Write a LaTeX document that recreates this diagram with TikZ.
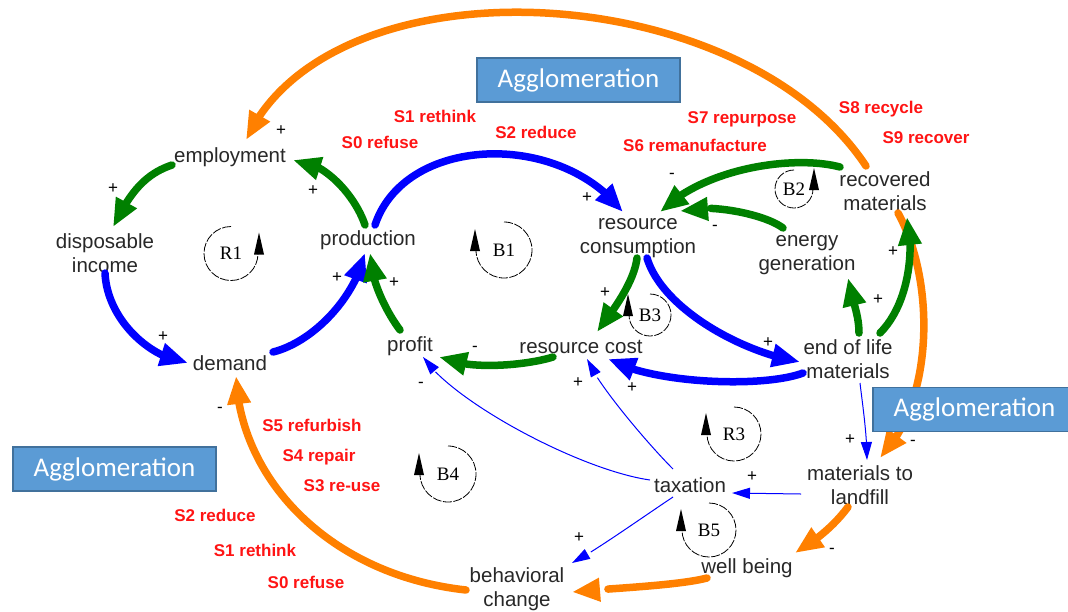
\documentclass[tikz,border=0pt]{standalone}
\usepackage{fontspec}
\setmainfont{Liberation Sans}
\newfontfamily\loopfont{Liberation Serif}
\newfontfamily\aggfont{Carlito}
\usetikzlibrary{arrows.meta,bending}

\definecolor{cldgreen}{RGB}{0,128,0}
\definecolor{cldblue}{RGB}{0,0,255}
\definecolor{cldorange}{RGB}{255,128,0}
\definecolor{cldred}{RGB}{255,20,20}
\definecolor{aggfill}{RGB}{91,155,213}
\definecolor{aggedge}{RGB}{65,113,156}
\definecolor{vartext}{RGB}{40,40,40}

% loop marker, clockwise: label, x, y, radius
\newcommand\cwloop[4]{%
  \node[looplabel] (#1) at (#2,#3) {#1};
  \draw[loopline] (#2,#3) ++(-90:#4) arc[start angle=-90, end angle=180, radius=#4];
  \fill (#2,#3) ++(-#4-6,1) -- ++(5,-22) -- ++(5,22) -- cycle;
}
% loop marker, counter-clockwise: label, x, y, radius
\newcommand\ccwloop[4]{%
  \node[looplabel] (#1) at (#2,#3) {#1};
  \draw[loopline] (#2,#3) ++(-90:#4) arc[start angle=-90, end angle=-360, radius=#4];
  \fill (#2,#3) ++(#4-4,1) -- ++(5,-22) -- ++(5,22) -- cycle;
}

\begin{document}
\begin{tikzpicture}[x=1pt,y=-1pt,
  var/.style={font=\fontsize{20.5}{24}\selectfont, text=vartext, align=center, inner sep=0pt},
  strat/.style={font=\bfseries\fontsize{17}{18}\selectfont, text=cldred, inner sep=0pt},
  pol/.style={font=\fontsize{17}{17}\selectfont, text=black, inner sep=0pt},
  looplabel/.style={font=\loopfont\fontsize{19}{19}\selectfont, inner sep=0pt},
  loopline/.style={draw=black, line width=0.8pt, dash pattern=on 9pt off 1.5pt},
  aggbox/.style={draw=aggedge, fill=aggfill, line width=1.2pt, text=white,
    font=\aggfont\fontsize{27}{30}\selectfont, minimum width=203pt, minimum height=44pt, inner sep=0pt},
  fat/.style={line width=7.5pt, line cap=round, -{Triangle[length=28pt,width=22pt]}},
  grn/.style={fat, draw=cldgreen},
  blu/.style={fat, draw=cldblue},
  org/.style={fat, draw=cldorange},
  thin/.style={draw=cldblue, line width=1pt, -{Triangle[length=18pt,width=11pt]}},
]
\useasboundingbox (0,0) rectangle (1068,611);
\fill[white] (0,0) rectangle (1068,611);

% variables
\node[var] (emp)    at (230,157) {employment};
\node[var] (inc)    at (105,253) {disposable\\income};
\node[var] (prod)   at (368,240) {production};
\node[var] (dem)    at (230,363) {demand};
\node[var] (prof)   at (410,346) {profit};
\node[var] (rcons)  at (638,238) {resource\\consumption};
\node[var] (energy) at (807,255) {energy\\generation};
\node[var] (recov)  at (885,191) {recovered\\materials};
\node[var] (rcost)  at (581,347) {resource cost};
\node[var] (eol)    at (848,359) {end of life\\materials};
\node[var] (landf)  at (860,485) {materials to\\landfill};
\node[var] (tax)    at (690,485) {taxation};
\node[var] (well)   at (747,568) {well being};
\node[var] (behav)  at (517,589) {behavioral\\change};

% agglomeration feedbacks (orange)
\draw[org] ([shift={(-19,-25)}]recov.center) .. controls +(-126,-190) and +(84,-184) .. ([shift={(16,-17)}]emp.center);
\draw[org] ([shift={(13,22)}]recov.center) .. controls +(37,67) and +(55,-58) .. ([shift={(20,-27)}]landf.center);
\draw[org] ([shift={(-12,22)}]landf.center) .. controls +(-15,20) and +(20,-12) .. ([shift={(48,-15)}]well.center);
\draw[org] ([shift={(-40,10)}]well.center) .. controls +(-30,8) and +(25,-3) .. ([shift={(55,3)}]behav.center);
\draw[org] ([shift={(-51,1)}]behav.center) .. controls +(-136,-15) and +(4,104) .. ([shift={(6,13)}]dem.center);

% agglomeration boxes
\node[aggbox] (agg1) at (578.5,80) {Agglomeration};
\node[aggbox] (agg2) at (114.5,469) {Agglomeration};
\node[aggbox] (agg3) at (974.5,409.5) {Agglomeration};

% loop R1
\draw[grn] ([shift={(-58,8)}]emp.center) .. controls +(-30,10) and +(15,-30) .. ([shift={(8,-26)}]inc.center);
\draw[grn] ([shift={(-3,-15)}]prod.center) .. controls +(-10,-30) and +(30,0) .. ([shift={(63,3)}]emp.center);
\draw[blu] ([shift={(0,20)}]inc.center) .. controls +(2,45) and +(-40,-5) .. ([shift={(-42,0)}]dem.center);
\draw[blu] ([shift={(43,-11)}]dem.center) .. controls +(40,-10) and +(-10,45) .. ([shift={(-3,13)}]prod.center);
\draw[grn] ([shift={(-10,-16)}]prof.center) .. controls +(-15,-20) and +(0,25) .. ([shift={(2,13)}]prod.center);

% resource loops
\draw[blu] ([shift={(7,-15)}]prod.center) .. controls +(30,-90) and +(-63,-82) .. ([shift={(-15,-26)}]rcons.center);
\draw[grn] ([shift={(-45,-24)}]recov.center) .. controls +(-45,-12) and +(45,-45) .. ([shift={(22,-26)}]rcons.center);
\draw[grn] ([shift={(-24,-27)}]energy.center) .. controls +(-20,-15) and +(25,-8) .. ([shift={(42,-27)}]rcons.center);
\draw[grn] ([shift={(-1,20)}]rcons.center) .. controls +(-3,25) and +(15,-20) .. ([shift={(16,-15)}]rcost.center);
\draw[blu] ([shift={(9,20)}]rcons.center) .. controls +(15,50) and +(-60,-10) .. ([shift={(-48,3)}]eol.center);
\draw[blu] ([shift={(-45,14)}]eol.center) .. controls +(-40,15) and +(45,25) .. ([shift={(27,12)}]rcost.center);
\draw[grn] ([shift={(-28,10)}]rcost.center) .. controls +(-25,8) and +(30,14) .. ([shift={(29,11)}]prof.center);
\draw[grn] ([shift={(11,-26)}]eol.center) .. controls +(0,-20) and +(3,20) .. ([shift={(41,23)}]energy.center);
\draw[grn] ([shift={(32,-26)}]eol.center) .. controls +(28,-28) and +(8,35) .. ([shift={(22,26)}]recov.center);

% taxation links
\draw[thin] ([shift={(12,24)}]eol.center) .. controls +(3,25) and +(0,-25) .. ([shift={(7,-25)}]landf.center);
\draw[thin] ([shift={(-59,9)}]landf.center) -- ([shift={(42,8)}]tax.center);
\draw[thin] ([shift={(-40,-5)}]tax.center) .. controls +(-70,-10) and +(30,45) .. ([shift={(13,11)}]prof.center);
\draw[thin] ([shift={(-17,-16)}]tax.center) .. controls +(-25,-25) and +(10,25) .. ([shift={(6,12)}]rcost.center);
\draw[thin] ([shift={(-17,12)}]tax.center) .. controls +(-30,20) and +(20,-10) .. ([shift={(55,-26)}]behav.center);

% polarities
\node[pol] (q1)  at (281,131) {+};
\node[pol] (q2)  at (113,189) {+};
\node[pol] (q3)  at (313,191) {+};
\node[pol] (q4)  at (163,337) {+};
\node[pol] (q5)  at (337,278) {+};
\node[pol] (q6)  at (394,283) {+};
\node[pol] (q7)  at (421,385) {-};
\node[pol] (q8)  at (220,410) {-};
\node[pol] (q9)  at (587,198) {+};
\node[pol] (q10) at (672,176) {-};
\node[pol] (q11) at (715,228) {-};
\node[pol] (q12) at (605,293) {+};
\node[pol] (q13) at (768,343) {+};
\node[pol] (q14) at (632,388) {+};
\node[pol] (q15) at (578,383) {+};
\node[pol] (q16) at (475,349) {-};
\node[pol] (q17) at (878,300) {+};
\node[pol] (q18) at (893,252) {+};
\node[pol] (q19) at (850,440) {+};
\node[pol] (q20) at (913,443) {-};
\node[pol] (q21) at (752,477) {+};
\node[pol] (q22) at (832,551) {-};
\node[pol] (q23) at (579,538) {+};

% loop markers
\ccwloop{R1}{231}{253.5}{27}
\cwloop{B1}{504}{250}{28}
\ccwloop{B2}{794}{189}{19}
\cwloop{B3}{650}{315}{21}
\cwloop{R3}{734}{434}{27}
\cwloop{B4}{448}{474}{28}
\cwloop{B5}{709}{530}{27}

% circular economy strategies
\node[strat] (t1)  at (435,116) {S1 rethink};
\node[strat] (t2)  at (380,142) {S0 refuse};
\node[strat] (t3)  at (536,132) {S2 reduce};
\node[strat] (t4)  at (742,119) {S7 repurpose};
\node[strat] (t5)  at (695,145) {S6 remanufacture};
\node[strat] (t6)  at (881,109) {S8 recycle};
\node[strat] (t7)  at (926,138) {S9 recover};
\node[strat] (t8)  at (312,425) {S5 refurbish};
\node[strat] (t9)  at (319,457) {S4 repair};
\node[strat] (t10) at (342,486) {S3 re-use};
\node[strat] (t11) at (215,515) {S2 reduce};
\node[strat] (t12) at (255,550) {S1 rethink};
\node[strat] (t13) at (306,582) {S0 refuse};
\end{tikzpicture}
\end{document}
